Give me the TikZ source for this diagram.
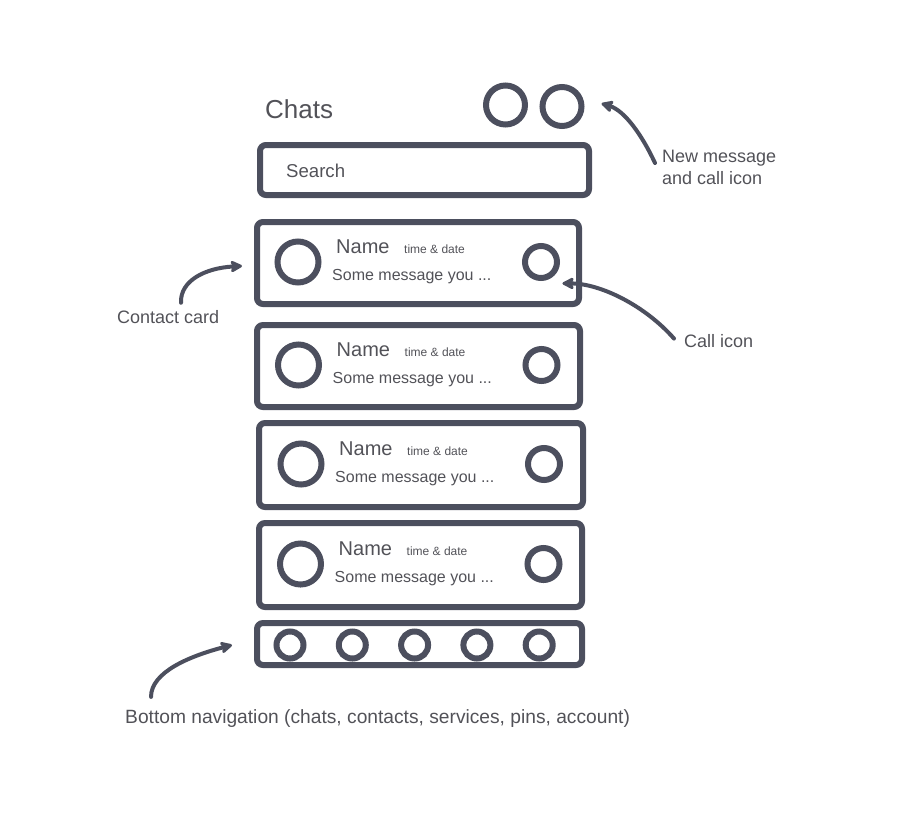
\documentclass[tikz,border=0pt]{standalone}
\usepackage{fontspec}
\setmainfont{Liberation Sans}
\usetikzlibrary{arrows.meta}
\definecolor{ink}{RGB}{76,79,94}
\definecolor{txtgray}{RGB}{82,82,88}

\begin{document}
\begin{tikzpicture}[x=1pt, y=-1pt, >={Stealth[length=14pt,width=14pt,inset=3pt,round]},
	box/.style={draw=ink, line width=6pt, rounded corners=6pt, inner sep=0pt},
	ring/.style={draw=ink, line width=6pt, circle, inner sep=0pt},
	note/.style={->, draw=ink, line width=4pt, line cap=round},
	lbl/.style={text=txtgray, inner sep=0pt, font=\fontsize{18}{22}\selectfont}]
	\useasboundingbox (0,0) rectangle (904,817);
	\node[lbl, anchor=base west, font=\fontsize{26}{30}\selectfont] (title) at (265,118) {Chats};
	\node[ring, minimum size=39pt] (top1) at (505.5,105) {};
	\node[ring, minimum size=39pt] (top2) at (562,106.5) {};
	\node[box, minimum width=329pt, minimum height=50pt] (search) at (424.5,170) {};
	\node[lbl, anchor=base west, font=\fontsize{18.6}{22}\selectfont] (searchtxt) at (286,177) {Search};
	\foreach \i/\cx/\cy/\w/\h in {1/418/263/322/82, 2/418.5/366/323/82, 3/421/465/324/84, 4/420.5/565/323/84} {
		\node[box, minimum width=\w pt, minimum height=\h pt] (card\i) at (\cx,\cy) {};
		\node[ring, minimum size=41pt] (av\i) at ([shift={(-120,-1)}]card\i.center) {};
		\node[ring, minimum size=32pt] (call\i) at ([shift={(123,-1)}]card\i.center) {};
		\node[lbl, anchor=base west, font=\fontsize{20}{24}\selectfont] (name\i) at ([shift={(-82,-10)}]card\i.center) {Name};
		\node[lbl, anchor=base west, font=\fontsize{12}{14}\selectfont] (time\i) at ([shift={(-14,-10)}]card\i.center) {time \& date};
		\node[lbl, anchor=base west, font=\fontsize{16}{19}\selectfont] (msg\i) at ([shift={(-86,17)}]card\i.center) {Some message you ...};
	}
	\node[box, minimum width=325pt, minimum height=42pt] (nav) at (419.5,644) {};
	\foreach \k in {0,...,4}
		\node[ring, minimum size=27pt] (nb\k) at ([shift={(-129.5+62.3*\k,1)}]nav.center) {};
	\node[lbl, anchor=north west, align=left] (newlbl) at (662,150) {New message\\and call icon};
	\node[lbl, anchor=base west] (calllbl) at (684,347) {Call icon};
	\node[lbl, anchor=base west] (contactlbl) at (117,323) {Contact card};
	\node[lbl, anchor=base west, font=\fontsize{19.2}{23}\selectfont] (navlbl) at (125,723) {Bottom navigation (chats, contacts, services, pins, account)};
	\draw[note] ([shift={(-7,13)}]newlbl.north west) .. controls +(-13,-28) and +(23,7) .. ([shift={(17,-3)}]top2.east);
	\draw[note] ([shift={(-10,-2)}]calllbl.west) .. controls +(-29,-33) and +(38,0) .. ([shift={(8,8)}]call1.south east);
	\draw[note] ([shift={(64,-7)}]contactlbl.north west) .. controls +(-1,-22) and +(-37,2) .. ([shift={(-12,3)}]card1.west);
	\draw[note] ([shift={(26,-12)}]navlbl.north west) .. controls +(0,-25) and +(-42,11) .. ([shift={(-22,1)}]nav.west);
\end{tikzpicture}
\end{document}
